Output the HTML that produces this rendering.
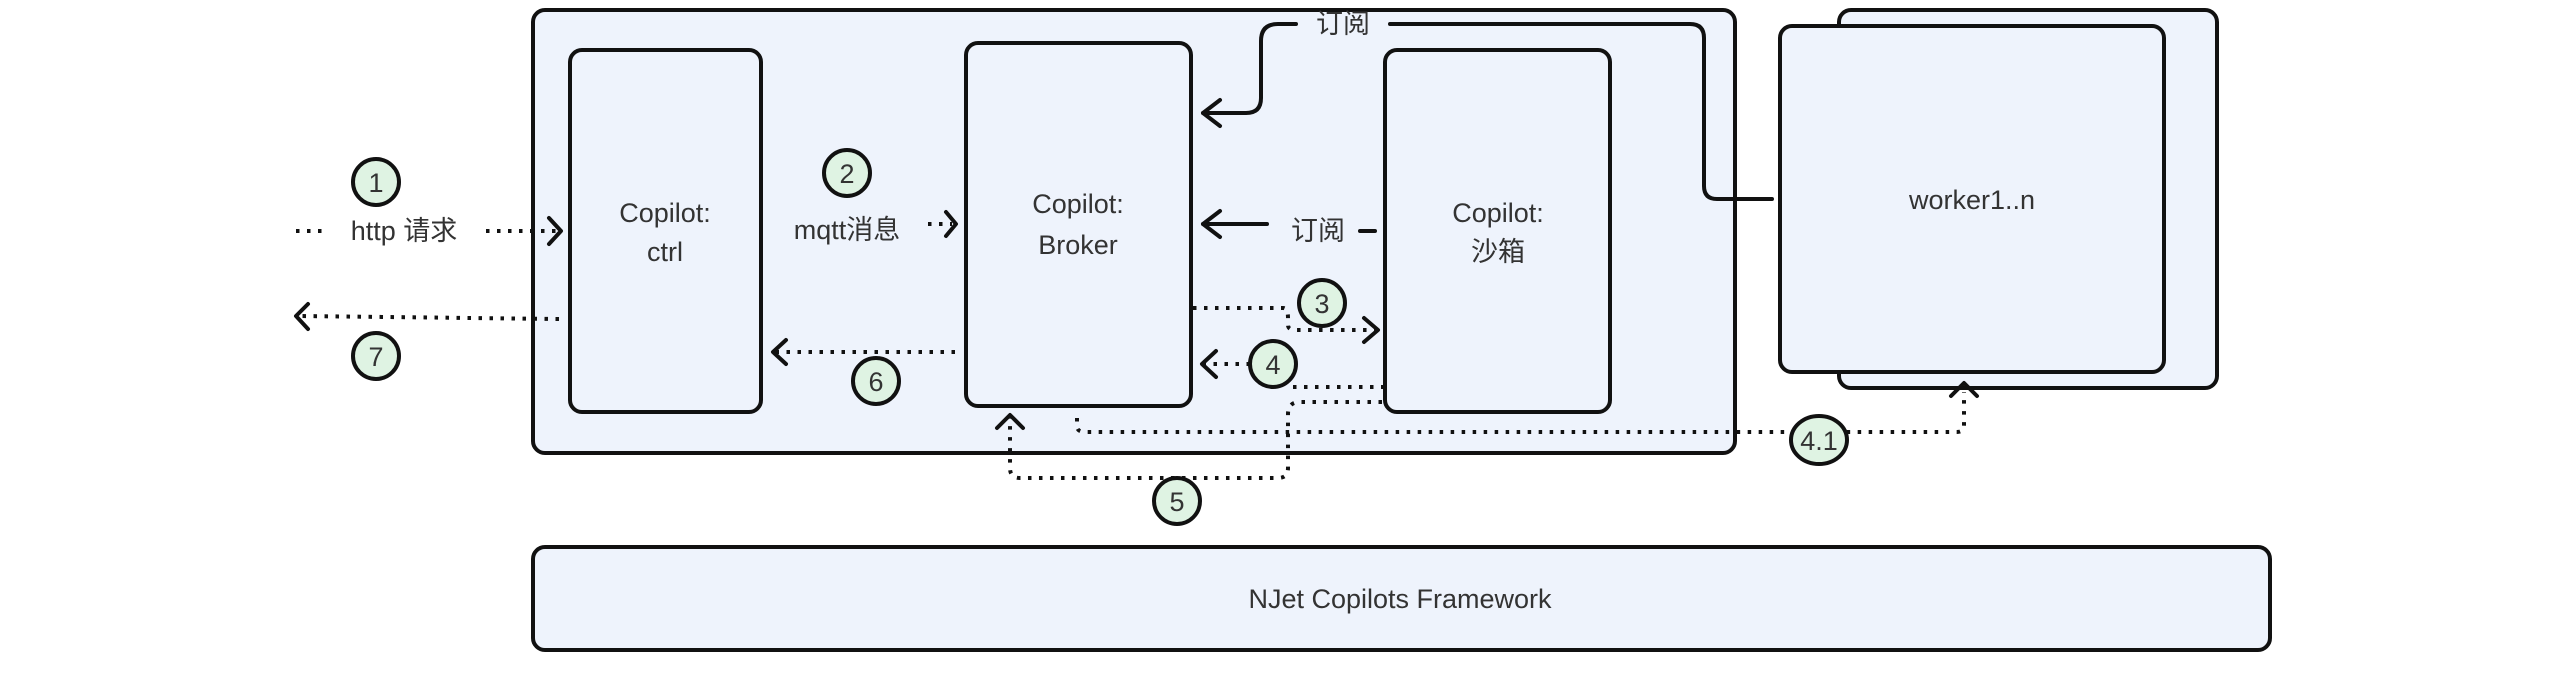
<!DOCTYPE html>
<html><head><meta charset="utf-8"><style>
html,body{margin:0;padding:0;background:#fff;}
svg{display:block;}
text{font-family:"Liberation Sans","Noto Sans CJK SC",sans-serif;font-size:27px;fill:#333;}
</style></head><body>
<svg width="2560" height="680" viewBox="0 0 2560 680" xmlns="http://www.w3.org/2000/svg">
<g stroke="#111" stroke-width="4" fill="#eef3fc">
<rect x="533" y="10" width="1202" height="443" rx="12"/>
<rect x="1839" y="10" width="378" height="378" rx="12"/>
<rect x="1780" y="26" width="384" height="346" rx="12"/>
<rect x="570" y="50" width="191" height="362" rx="12"/>
<rect x="966" y="43" width="225" height="363" rx="12"/>
<rect x="1385" y="50" width="225" height="362" rx="12"/>
<rect x="533" y="547" width="1737" height="103" rx="12"/>
</g>
<g fill="none" stroke="#111" stroke-width="4" stroke-linecap="round" stroke-linejoin="round">
<!-- subscribe top -->
<path d="M1296 24 H1278 Q1261 24 1261 41 V98 Q1261 113 1246 113 H1203"/>
<path d="M1220 100 L1203 113 L1220 126"/>
<path d="M1390 24 H1690 Q1704 24 1704 38 V186 Q1704 199 1717 199 H1772"/>
<!-- subscribe middle -->
<path d="M1267 224 H1203"/><path d="M1220 211 L1203 224 L1220 237"/>
<path d="M1360 231 H1375"/>
</g>
<g fill="none" stroke="#111" stroke-width="4" stroke-dasharray="3.5 7.5">
<path d="M296 231 H322"/>
<path d="M486 231 H556"/>
<path d="M928 224 H952"/>
<path d="M559 319 L300 316"/>
<path d="M955 352 H775"/>
<path d="M1193 308 H1283 Q1288 308 1288 318 V325 Q1288 330 1296 330 H1378"/>
<path d="M1250 364 H1203"/>
<path d="M1293 387 H1384"/>
<path d="M1382 402 H1300 Q1288 402 1288 414 V468 Q1288 478 1278 478 H1020 Q1010 478 1010 468 V418"/>
<path d="M1077 418 V426 Q1077 432 1085 432 H1957 Q1964 432 1964 425 V392"/>
</g>
<g fill="none" stroke="#111" stroke-width="4" stroke-linecap="round" stroke-linejoin="round">
<path d="M549 218 L561 231 L549 244"/>
<path d="M946 212 L956 224 L946 236"/>
<path d="M308 304 L296 316 L308 329"/>
<path d="M786 340 L773 352 L786 364"/>
<path d="M1364 318 L1378 330 L1364 342"/>
<path d="M1216 351 L1202 364 L1216 377"/>
<path d="M997 428 L1010 415 L1023 428"/>
<path d="M1951 396 L1964 383 L1977 396"/>
</g>
<g fill="#dff3e3" stroke="#111" stroke-width="4">
<circle cx="376" cy="182" r="23"/>
<circle cx="847" cy="173" r="23"/>
<circle cx="376" cy="356" r="23"/>
<circle cx="876" cy="381" r="23"/>
<circle cx="1322" cy="303" r="23"/>
<circle cx="1273" cy="364" r="23"/>
<circle cx="1177" cy="501" r="23"/>
<ellipse cx="1819" cy="440" rx="28" ry="24"/>
</g>
<g text-anchor="middle">
<text x="376" y="192">1</text>
<text x="847" y="183">2</text>
<text x="376" y="366">7</text>
<text x="876" y="391">6</text>
<text x="1322" y="313">3</text>
<text x="1273" y="374">4</text>
<text x="1177" y="511">5</text>
<text x="1819" y="450" font-size="25">4.1</text>
<text x="404" y="240">http 请求</text>
<text x="847" y="239">mqtt消息</text>
<text x="665" y="222">Copilot:</text>
<text x="665" y="261">ctrl</text>
<text x="1078" y="213">Copilot:</text>
<text x="1078" y="254">Broker</text>
<text x="1498" y="222">Copilot:</text>
<text x="1498" y="261">沙箱</text>
<text x="1343" y="33">订阅</text>
<text x="1318" y="240">订阅</text>
<text x="1972" y="209">worker1..n</text>
<text x="1400" y="608">NJet Copilots Framework</text>
</g>
</svg>
</body></html>
